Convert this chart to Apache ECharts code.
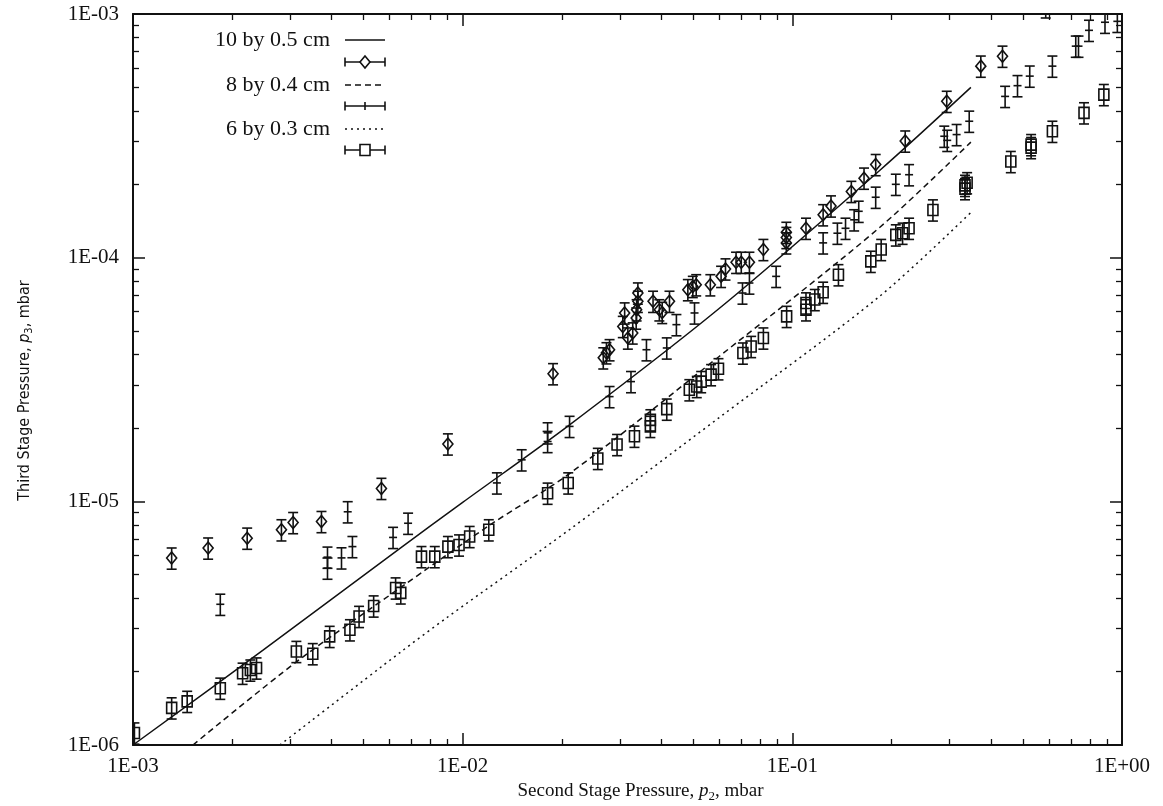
<!DOCTYPE html>
<html><head><meta charset="utf-8">
<script src="https://cdn.jsdelivr.net/npm/echarts@6/dist/echarts.min.js"></script>
<style>html,body{margin:0;padding:0;background:#fff}#c{width:1163px;height:806px}</style>
</head><body><div id="c"></div>
<script>
// ---- tick labels ----
const xTickLabels = ['1E-03', '1E-02', '1E-01', '1E+00'];
const yTickLabels = ['1E-06', '1E-05', '1E-04', '1E-03'];
const minorMultipliers = [2, 3, 4, 5, 6, 7, 8, 9];

// ---- series names ----
const seriesNames = ['10 by 0.5 cm', '8 by 0.4 cm', '6 by 0.3 cm'];

// ---- model curves ----
const solidX = [1.0e-3, 2.48e-3, 6.44e-3, 1.0e-2, 2.11e-2, 6.01e-2, 0.184, 0.348];
const solidY = [1.0e-6, 2.45e-6, 6.4e-6, 9.9e-6, 2.06e-5, 6.2e-5, 2.28e-4, 5.0e-4];
const dashedX = [1.52e-3, 3.14e-3, 6.44e-3, 1.21e-2, 2.11e-2, 6.01e-2, 0.184, 0.348];
const dashedY = [1.0e-6, 2.2e-6, 4.4e-6, 8.0e-6, 1.3e-5, 3.94e-5, 1.33e-4, 2.98e-4];
const dottedX = [2.79e-3, 6.44e-3, 8.95e-3, 2.11e-2, 6.01e-2, 0.184, 0.351];
const dottedY = [1.0e-6, 2.39e-6, 3.33e-6, 7.66e-6, 2.21e-5, 6.94e-5, 1.55e-4];

// ---- measured points: 10 by 0.5 cm (diamonds) ----
const p2_A = [1.31e-3, 1.69e-3, 2.22e-3, 2.82e-3, 3.06e-3, 3.73e-3, 5.67e-3, 9.02e-3, 1.88e-2,
  2.67e-2, 2.73e-2, 2.79e-2, 3.06e-2, 3.10e-2, 3.17e-2, 3.28e-2, 3.36e-2, 3.37e-2, 3.40e-2, 3.40e-2,
  3.78e-2, 3.95e-2, 4.03e-2, 4.24e-2, 4.82e-2, 4.99e-2, 5.11e-2, 5.64e-2, 6.08e-2, 6.27e-2, 6.75e-2,
  7.00e-2, 7.41e-2, 8.17e-2, 9.59e-2, 9.59e-2, 9.59e-2, 0.110, 0.124, 0.131, 0.151, 0.165, 0.179,
  0.220, 0.294, 0.373, 0.434];
const p3_A = [5.85e-6, 6.43e-6, 7.06e-6, 7.64e-6, 8.18e-6, 8.26e-6, 1.13e-5, 1.72e-5, 3.34e-5,
  3.88e-5, 4.07e-5, 4.19e-5, 5.22e-5, 5.93e-5, 4.68e-5, 4.91e-5, 5.65e-5, 6.11e-5, 7.16e-5, 6.62e-5,
  6.62e-5, 6.11e-5, 5.96e-5, 6.62e-5, 7.39e-5, 7.62e-5, 7.74e-5, 7.74e-5, 8.38e-5, 8.99e-5, 9.57e-5,
  9.57e-5, 9.57e-5, 1.08e-4, 1.27e-4, 1.21e-4, 1.15e-4, 1.32e-4, 1.50e-4, 1.63e-4, 1.87e-4, 2.12e-4, 2.41e-4,
  3.01e-4, 4.38e-4, 6.11e-4, 6.71e-4];

// ---- measured points: 8 by 0.4 cm (plus) ----
const p2_B = [1.84e-3, 3.89e-3, 3.89e-3, 4.29e-3, 4.63e-3, 4.48e-3, 6.15e-3, 6.83e-3, 1.27e-2, 1.51e-2,
  1.81e-2, 1.81e-2, 2.11e-2, 2.79e-2, 3.24e-2, 3.61e-2, 4.16e-2, 4.45e-2, 5.05e-2, 7.06e-2, 7.41e-2,
  8.93e-2, 0.124, 0.137, 0.145, 0.154, 0.159, 0.179, 0.206, 0.226, 0.289, 0.295, 0.315, 0.344, 0.442,
  0.482, 0.525, 0.587, 0.615, 0.724, 0.738, 0.794, 0.888, 0.968];
const p3_B = [3.78e-6, 5.90e-6, 5.32e-6, 5.86e-6, 6.52e-6, 9.06e-6, 7.11e-6, 8.13e-6, 1.19e-5, 1.48e-5,
  1.91e-5, 1.76e-5, 2.03e-5, 2.69e-5, 3.10e-5, 4.19e-5, 4.26e-5, 5.31e-5, 5.93e-5, 7.16e-5, 7.87e-5,
  8.38e-5, 1.15e-4, 1.26e-4, 1.32e-4, 1.43e-4, 1.55e-4, 1.77e-4, 2.00e-4, 2.19e-4, 3.15e-4, 3.03e-4, 3.20e-4, 3.63e-4, 4.59e-4,
  5.08e-4, 5.56e-4, 1.07e-3, 6.11e-4, 7.38e-4, 7.38e-4, 8.57e-4, 9.25e-4, 9.33e-4];

// ---- measured points: 6 by 0.3 cm (squares) ----
const p2_C = [1.01e-3, 1.31e-3, 1.46e-3, 1.84e-3, 2.15e-3, 2.27e-3, 2.37e-3, 3.13e-3, 3.51e-3, 3.95e-3,
  4.55e-3, 4.85e-3, 5.37e-3, 6.26e-3, 6.49e-3, 7.50e-3, 8.23e-3, 9.02e-3, 9.75e-3, 1.05e-2, 1.20e-2,
  1.81e-2, 2.09e-2, 2.57e-2, 2.94e-2, 3.32e-2, 3.71e-2, 3.71e-2, 4.16e-2, 4.87e-2, 5.13e-2, 5.29e-2,
  5.67e-2, 5.97e-2, 7.08e-2, 7.50e-2, 8.17e-2, 9.61e-2, 0.110, 0.110, 0.117, 0.124, 0.138, 0.173,
  0.186, 0.206, 0.216, 0.226, 0.267, 0.334, 0.339, 0.334, 0.460, 0.530, 0.530, 0.615, 0.767, 0.881];
const p3_C = [1.12e-6, 1.42e-6, 1.51e-6, 1.71e-6, 1.97e-6, 2.03e-6, 2.07e-6, 2.42e-6, 2.37e-6, 2.79e-6,
  2.97e-6, 3.37e-6, 3.72e-6, 4.41e-6, 4.21e-6, 5.93e-6, 5.93e-6, 6.52e-6, 6.62e-6, 7.17e-6, 7.64e-6,
  1.08e-5, 1.19e-5, 1.50e-5, 1.71e-5, 1.85e-5, 2.16e-5, 2.03e-5, 2.39e-5, 2.87e-5, 2.96e-5, 3.10e-5,
  3.31e-5, 3.50e-5, 4.06e-5, 4.32e-5, 4.68e-5, 5.74e-5, 6.11e-5, 6.52e-5, 6.73e-5, 7.21e-5, 8.51e-5, 9.66e-5,
  1.08e-4, 1.24e-4, 1.26e-4, 1.32e-4, 1.57e-4, 1.98e-4, 2.03e-4, 1.92e-4, 2.48e-4, 2.91e-4, 2.83e-4, 3.30e-4, 3.93e-4, 4.67e-4];

// relative error of every measured point (error bars)
const relErr = 0.10;

// ------------------------------------------------------------
const INK = '#111';
const FONT = '"Liberation Serif", "Times New Roman", serif';
const NARROW = '"Liberation Sans Narrow", "DejaVu Sans Condensed", "Liberation Sans", sans-serif';

function expLabel(labels, minExp) {
  return v => {
    const e = Math.round(Math.log10(v));
    return labels[e - minExp] || '';
  };
}
function minorLogs(e0, e1) {
  const out = [];
  for (let e = e0; e < e1; e++) minorMultipliers.forEach(m => out.push(e + Math.log10(m)));
  return out;
}

function renderErr(marker) {
  return function (params, api) {
    const x = api.value(0);
    const c = api.coord([x, api.value(1)]);
    const lo = api.coord([x, api.value(2)]);
    const hi = api.coord([x, api.value(3)]);
    const st = { stroke: INK, lineWidth: 1.6, fill: null };
    const cap = 5;
    const ch = [
      { type: 'line', shape: { x1: c[0], y1: lo[1], x2: c[0], y2: hi[1] }, style: st },
      { type: 'line', shape: { x1: c[0] - cap, y1: lo[1], x2: c[0] + cap, y2: lo[1] }, style: st },
      { type: 'line', shape: { x1: c[0] - cap, y1: hi[1], x2: c[0] + cap, y2: hi[1] }, style: st }
    ];
    if (marker === 'diamond') {
      ch.push({ type: 'polygon', shape: { points: [[c[0], c[1] - 6], [c[0] + 5, c[1]], [c[0], c[1] + 6], [c[0] - 5, c[1]]] },
        style: { stroke: INK, lineWidth: 1.6, fill: 'rgba(0,0,0,0)' } });
    } else if (marker === 'square') {
      ch.push({ type: 'rect', shape: { x: c[0] - 5, y: c[1] - 5.5, width: 10, height: 11 },
        style: { stroke: INK, lineWidth: 1.6, fill: 'rgba(0,0,0,0)' } });
    } else {
      ch.push({ type: 'line', shape: { x1: c[0] - 4, y1: c[1], x2: c[0] + 4, y2: c[1] }, style: st });
    }
    return { type: 'group', children: ch };
  };
}
function errSeries(name, xs, ys, marker) {
  return {
    type: 'custom', name: name, xAxisIndex: 0, yAxisIndex: 0, clip: true,
    data: xs.map((x, i) => [x, ys[i], ys[i] * (1 - relErr), ys[i] * (1 + relErr)]),
    encode: { x: 0, y: [1, 2, 3] },
    renderItem: renderErr(marker), z: 3
  };
}
function lineSeries(name, xs, ys, dash) {
  return {
    type: 'line', name: name, xAxisIndex: 0, yAxisIndex: 0, showSymbol: false, smooth: 0.3,
    data: xs.map((x, i) => [x, ys[i]]),
    lineStyle: { color: INK, width: 1.5, type: dash },
    clip: true, z: 2
  };
}

const axisLine = { show: true, onZero: false, lineStyle: { color: INK, width: 2 } };
const majorTick = { show: true, inside: true, length: 12, lineStyle: { color: INK, width: 1.5 } };
const xMinor = minorLogs(-3, 0);
const yMinor = minorLogs(-6, -3);
function minorAxis(pos, vals, lo, hi) {
  return {
    type: 'value', position: pos, min: lo, max: hi,
    axisLine: { show: false, onZero: false }, splitLine: { show: false }, axisLabel: { show: false },
    axisTick: { show: true, inside: true, length: 6, customValues: vals, lineStyle: { color: INK, width: 1.3 } }
  };
}

const xNameRich = {
  n: { fontFamily: FONT, fontSize: 19, color: INK },
  i: { fontFamily: FONT, fontSize: 19, color: INK, fontStyle: 'italic' },
  s: { fontFamily: FONT, fontSize: 13, color: INK, padding: [10, 0, 0, 0] }
};
const yNameRich = {
  n: { fontFamily: NARROW, fontSize: 16, color: INK },
  i: { fontFamily: NARROW, fontSize: 16, color: INK, fontStyle: 'italic' },
  s: { fontFamily: NARROW, fontSize: 11, color: INK, padding: [9, 0, 0, 0] }
};

// legend drawing
const LX1 = 345, LX2 = 385, LTX = 330;
const legendRows = [40, 62, 85, 106, 129, 150];
function legendErr(y, marker) {
  const st = { stroke: INK, lineWidth: 1.6, fill: null };
  const items = [
    { type: 'line', shape: { x1: LX1, y1: y, x2: LX2, y2: y }, style: st },
    { type: 'line', shape: { x1: LX1, y1: y - 4.5, x2: LX1, y2: y + 4.5 }, style: st },
    { type: 'line', shape: { x1: LX2, y1: y - 4.5, x2: LX2, y2: y + 4.5 }, style: st }
  ];
  const cx = (LX1 + LX2) / 2;
  if (marker === 'diamond') items.push({ type: 'polygon', shape: { points: [[cx, y - 6], [cx + 5, y], [cx, y + 6], [cx - 5, y]] }, style: { stroke: INK, lineWidth: 1.6, fill: '#fff' } });
  else if (marker === 'square') items.push({ type: 'rect', shape: { x: cx - 5, y: y - 5.5, width: 10, height: 11 }, style: { stroke: INK, lineWidth: 1.6, fill: '#fff' } });
  else items.push({ type: 'line', shape: { x1: cx, y1: y - 4, x2: cx, y2: y + 4 }, style: st });
  return items;
}
function legendText(y, t) {
  return { type: 'text', x: LTX, y: y, style: { text: t, align: 'right', verticalAlign: 'middle', fontFamily: FONT, fontSize: 22, fill: INK } };
}
function legendLine(y, dash) {
  return { type: 'line', shape: { x1: LX1, y1: y, x2: LX2, y2: y }, style: { stroke: INK, lineWidth: 1.5, lineDash: dash } };
}
const graphics = [
  legendText(legendRows[0], seriesNames[0]), legendLine(legendRows[0], null),
  ...legendErr(legendRows[1], 'diamond'),
  legendText(legendRows[2], seriesNames[1]), legendLine(legendRows[2], [6, 4]),
  ...legendErr(legendRows[3], 'plus'),
  legendText(legendRows[4], seriesNames[2]), legendLine(legendRows[4], [2, 4]),
  ...legendErr(legendRows[5], 'square')
];

const chart = echarts.init(document.getElementById('c'), null, { renderer: 'canvas' });
chart.setOption({
  animation: false,
  backgroundColor: '#fff',
  grid: { left: 133, right: 41, top: 14, bottom: 61, outerBoundsMode: 'none', containLabel: false },
  xAxis: [
    { type: 'log', logBase: 10, min: 1e-3, max: 1, position: 'bottom', axisLine: axisLine, axisTick: majorTick,
      splitLine: { show: false },
      axisLabel: { formatter: expLabel(xTickLabels, -3), fontFamily: FONT, fontSize: 21, color: INK, margin: 11 },
      name: '{n|Second Stage Pressure, }{i|p}{s|2}{n|, mbar}', nameLocation: 'middle', nameGap: 32,
      nameTextStyle: { rich: xNameRich, padding: [0, 0, 0, 26] } },
    { type: 'log', logBase: 10, min: 1e-3, max: 1, position: 'top', axisLine: axisLine, axisTick: majorTick,
      splitLine: { show: false }, axisLabel: { show: false } },
    minorAxis('bottom', xMinor, -3, 0),
    minorAxis('top', xMinor, -3, 0)
  ],
  yAxis: [
    { type: 'log', logBase: 10, min: 1e-6, max: 1e-3, position: 'left', axisLine: axisLine, axisTick: majorTick,
      splitLine: { show: false },
      axisLabel: { formatter: expLabel(yTickLabels, -6), fontFamily: FONT, fontSize: 21, color: INK, margin: 14 },
      name: '{n|Third Stage Pressure, }{i|p}{s|3}{n|, mbar}', nameLocation: 'middle', nameGap: 98, nameRotate: 90,
      nameTextStyle: { rich: yNameRich, padding: [0, 22, 0, 0] } },
    { type: 'log', logBase: 10, min: 1e-6, max: 1e-3, position: 'right', axisLine: axisLine, axisTick: majorTick,
      splitLine: { show: false }, axisLabel: { show: false } },
    minorAxis('left', yMinor, -6, -3),
    minorAxis('right', yMinor, -6, -3)
  ],
  series: [
    lineSeries(seriesNames[0], solidX, solidY, 'solid'),
    lineSeries(seriesNames[1], dashedX, dashedY, [6, 4]),
    lineSeries(seriesNames[2], dottedX, dottedY, [2, 4]),
    errSeries(seriesNames[0] + ' data', p2_A, p3_A, 'diamond'),
    errSeries(seriesNames[1] + ' data', p2_B, p3_B, 'plus'),
    errSeries(seriesNames[2] + ' data', p2_C, p3_C, 'square')
  ],
  graphic: graphics
});
</script>
</body></html>
